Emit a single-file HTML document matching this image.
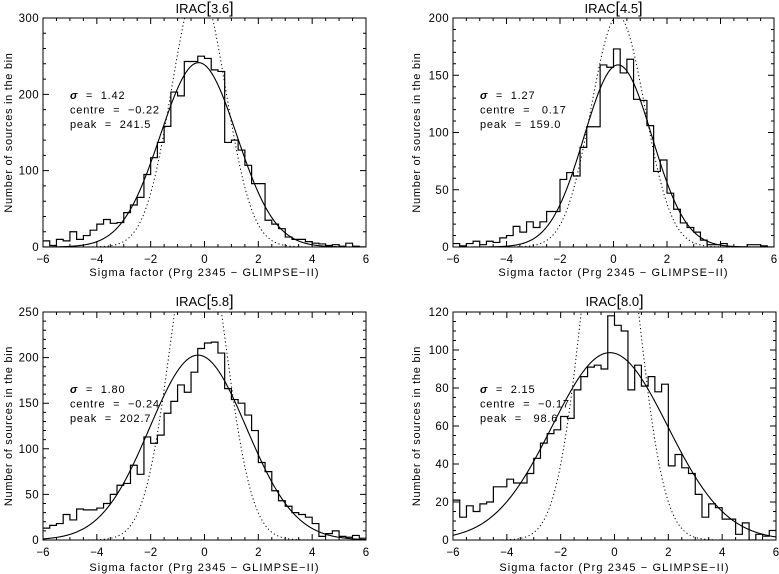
<!DOCTYPE html>
<html><head><meta charset="utf-8"><style>
html,body{margin:0;padding:0;background:#fff;}
svg{display:block;font-family:"Liberation Sans",sans-serif;}
</style></head><body>
<svg id="fig" width="779" height="574" viewBox="0 0 779 574" xmlns="http://www.w3.org/2000/svg"></svg>
<script>
const binStart = -6, binWidth = 0.25;
const countsIrac36 = [8,2,10,8,20,10,15,22,30,36,31,32,45,55,65,95,117,137,158,203,198,243,243,250,247,232,230,137,140,127,107,83,83,35,30,24,13,10,10,7,5,4,2,3,1,5,1,0];
const countsIrac45 = [3,1,3,5,2,5,4,8,10,18,13,22,17,22,31,31,59,65,62,87,105,105,159,157,173,152,164,129,128,106,66,76,47,33,21,17,13,6,2,2,3,0,0,0,2,2,1,0];
const countsIrac58 = [13,16,18,28,22,34,33,33,35,40,50,60,62,82,72,113,106,115,139,152,170,162,184,210,216,217,205,166,154,150,137,120,85,75,54,43,37,30,28,25,18,4,7,10,4,3,5,2];
const countsIrac80 = [21,12,18,15,19,20,28,28,32,30,30,35,43,51,56,58,65,64,79,86,91,92,90,118,113,110,79,92,81,86,78,82,39,45,38,35,24,12,19,17,11,11,3,9,0,3,2,5];
const bandNames = ["3.6","4.5","5.8","8.0"];
const fitSigma = [1.42,1.27,1.80,2.15];
const fitCentre = [-0.22,0.17,-0.24,-0.17];
const fitPeak = [241.5,159.0,202.7,98.6];
const yMaxes = [300,200,250,120];
const yMajor = [100,50,50,20];
const yMinor = [20,10,10,5];
const xTicks = [-6,-4,-2,0,2,4,6];
const sigmaText = ["1.42","1.27","1.80","2.15"];
const centreText = ["-0.22"," 0.17","-0.24","-0.17"];
const peakText = ["241.5","159.0","202.7"," 98.6"];
const allCounts = [countsIrac36,countsIrac45,countsIrac58,countsIrac80];

const NS = "http://www.w3.org/2000/svg";
const svg = document.getElementById("fig");
function mk(tag, attrs, parent){ const e=document.createElementNS(NS,tag); for(const k in attrs) e.setAttribute(k,attrs[k]); (parent||svg).appendChild(e); return e; }

const boxes = [
  {l:43,r:366,t:18,b:247, yl:8, ann:70, ttl:8, xl:276},
  {l:453,r:774,t:18,b:247, yl:416, ann:480, ttl:8, xl:276},
  {l:43,r:366,t:312,b:540, yl:8, ann:70, ttl:301, xl:571},
  {l:453,r:776,t:312,b:540, yl:416, ann:480, ttl:301, xl:571}
];

for (let p=0;p<4;p++){
  const B=boxes[p], ymax=yMaxes[p];
  const g=mk("g",{});
  
  
  const X=v=>B.l+(v+6)/12*(B.r-B.l);
  const Y=v=>B.b-v/ymax*(B.b-B.t);
  const cid="clip"+p;
  const cp=mk("clipPath",{id:cid},g); mk("rect",{x:B.l,y:B.t,width:B.r-B.l,height:B.b-B.t},cp);
  const c=allCounts[p];
  let d="";
  for(let i=0;i<c.length;i++){
    const x0=X(binStart+i*binWidth), x1=X(binStart+(i+1)*binWidth), y=Y(c[i]);
    d+=(i===0?"M"+x0+","+y:"L"+x0+","+y)+"L"+x1+","+y;
  }
  const h=mk("path",{d:d,fill:"none",stroke:"#000","stroke-width":1.2,"clip-path":"url(#"+cid+")"},g);
  
  
  let ds="",dd="";
  const Hd=fitPeak[p]*fitSigma[p];
  for(let k=0;k<=400;k++){
    const x=-6+12*k/400;
    const ys=fitPeak[p]*Math.exp(-Math.pow(x-fitCentre[p],2)/(2*fitSigma[p]*fitSigma[p]));
    const yd=Hd*Math.exp(-Math.pow(x-fitCentre[p],2)/2);
    ds+=(k?"L":"M")+X(x).toFixed(2)+","+Y(ys).toFixed(2);
    dd+=(k?"L":"M")+X(x).toFixed(2)+","+Y(yd).toFixed(2);
  }
  const fs=mk("path",{d:ds,fill:"none",stroke:"#000","stroke-width":1.1,"clip-path":"url(#"+cid+")"},g);
  
  
  const fd=mk("path",{d:dd,fill:"none",stroke:"#000","stroke-width":1,"stroke-dasharray":"1.2,2.6","clip-path":"url(#"+cid+")"},g);
  
  
  const bx=mk("rect",{x:B.l,y:B.t,width:B.r-B.l,height:B.b-B.t,fill:"none",stroke:"#000","stroke-width":1},g);
  
  
  let td="";
  for(let v=-6;v<=6.001;v+=0.5){
    const major=Math.abs(v/2-Math.round(v/2))<1e-6, L=major?6:3, x=X(v);
    td+="M"+x+","+B.b+"v"+(-L)+"M"+x+","+B.t+"v"+L;
  }
  for(let v=0;v<=ymax+1e-6;v+=yMinor[p]){
    const major=Math.abs(v/yMajor[p]-Math.round(v/yMajor[p]))<1e-6, L=major?6:3, y=Y(v);
    td+="M"+B.l+","+y+"h"+L+"M"+B.r+","+y+"h"+(-L);
  }
  mk("path",{d:td,stroke:"#000","stroke-width":1,fill:"none"},g);
  xTicks.forEach(v=>{
    const t=mk("text",{x:X(v),y:B.b+16,"font-size":11.5,"text-anchor":"middle"},g);
    t.textContent=(v<0?"\u2212"+(-v):""+v);
    
    
  });
  for(let v=0;v<=ymax+1e-6;v+=yMajor[p]){
    const t=mk("text",{x:B.l-4,y:Y(v)+4,"font-size":11.5,"text-anchor":"end","letter-spacing":0.4},g);
    t.textContent=""+v;
    
    
  }
  const tt=mk("text",{x:(B.l+B.r)/2,y:B.ttl+5,"font-size":13,"text-anchor":"middle"},g);
  tt.innerHTML='IRAC<tspan font-size="16">[</tspan>'+bandNames[p]+'<tspan font-size="16">]</tspan>';
  
  
  const xl=mk("text",{x:(B.l+B.r)/2,y:B.xl,"font-size":11,"text-anchor":"middle","letter-spacing":1.1},g);
  xl.setAttribute("style","white-space:pre");
  xl.textContent="Sigma factor (Prg 2345 \u2212 GLIMPSE\u2212II)";
  
  
  const cy=(B.t+B.b)/2;
  const yl=mk("text",{x:B.yl+4,y:cy,"font-size":11,"text-anchor":"middle","letter-spacing":0.7,transform:"rotate(-90 "+(B.yl+4)+" "+cy+")"},g);
  yl.setAttribute("style","white-space:pre");
  yl.textContent="Number of sources in the bin";
  
  
  const ay=B.t+81;
  const a1=mk("text",{x:B.ann,y:ay,"font-size":11,"letter-spacing":0.8},g);
  a1.setAttribute("style","white-space:pre");
  a1.innerHTML='<tspan font-style="italic" font-weight="bold">\u03C3</tspan>  =  '+sigmaText[p];
  
  
  const a2=mk("text",{x:B.ann,y:ay+14.5,"font-size":11,"letter-spacing":0.8},g);
  a2.setAttribute("style","white-space:pre");
  a2.textContent="centre  =  "+centreText[p].replace("-","\u2212");
  
  
  const a3=mk("text",{x:B.ann,y:ay+29,"font-size":11,"letter-spacing":0.8},g);
  a3.setAttribute("style","white-space:pre");
  a3.textContent="peak  =  "+peakText[p];
  
  
}
</script>
</body></html>
